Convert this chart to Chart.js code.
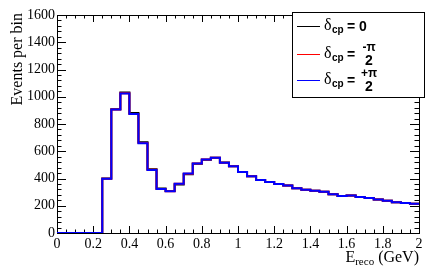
<!DOCTYPE html>
<html>
<head>
<meta charset="utf-8">
<script src="https://cdn.jsdelivr.net/npm/chart.js@4.4.1/dist/chart.umd.min.js"></script>
<style>
  body { margin: 0; background: #fff; }
  canvas { display: block; }
</style>
</head>
<body>
<canvas id="histChart" width="442" height="277"></canvas>
<script>
// Histogram: 40 bins of 0.05 GeV from 0 to 2 GeV
const binWidth = 0.05;
const nBins = 40;

// events per bin, delta_cp = 0
const countsZero = [
  0, 0, 0, 0, 0, 400, 909, 1031, 881, 666,
  468, 326, 308, 356, 432, 508, 537, 552, 517, 490,
  448, 416, 389, 374, 360, 348, 328, 318, 311, 303,
  284, 271, 276, 264, 257, 245, 237, 225, 220, 215
];
// delta_cp = -pi/2
const countsMinus = [
  0, 0, 0, 0, 0, 399, 907, 1025, 874, 660,
  464, 323, 306, 361, 435, 510, 539, 553, 516, 490,
  447, 416, 389, 374, 360, 348, 328, 318, 311, 303,
  284, 271, 276, 264, 257, 245, 237, 225, 220, 215
];
// delta_cp = +pi/2
const countsPlus = [
  0, 0, 0, 0, 0, 399, 907, 1024, 873, 659,
  463, 323, 306, 362, 436, 510, 539, 553, 516, 490,
  447, 416, 389, 374, 360, 348, 328, 318, 311, 303,
  284, 271, 276, 264, 257, 245, 237, 225, 220, 215
];

const xTicks = [0, 0.2, 0.4, 0.6, 0.8, 1, 1.2, 1.4, 1.6, 1.8, 2];
const yTicks = [0, 200, 400, 600, 800, 1000, 1200, 1400, 1600];

// turn bin contents into step points (left edge + closing right edge)
function toSteps(counts) {
  const pts = counts.map((c, i) => ({ x: i * binWidth, y: c }));
  pts.push({ x: nBins * binWidth, y: counts[counts.length - 1] });
  return pts;
}

// ROOT-like frame with inward ticks on all four sides
const framePlugin = {
  id: "framePlugin",
  beforeDatasetsDraw(chart) {
    const { ctx, chartArea: a, scales } = chart;
    const sx = scales.x, sy = scales.y;
    ctx.save();
    ctx.strokeStyle = "#000";
    ctx.lineWidth = 1;
    ctx.strokeRect(Math.round(a.left) + 0.5, Math.round(a.top) + 0.5,
      Math.round(a.right - a.left), Math.round(a.bottom - a.top));
    ctx.beginPath();
    for (let i = 0; i <= 40; i++) {
      const px = Math.round(sx.getPixelForValue(i * 0.05)) + 0.5;
      const len = i % 4 === 0 ? 7 : 3.5;
      ctx.moveTo(px, a.bottom); ctx.lineTo(px, a.bottom - len);
      ctx.moveTo(px, a.top); ctx.lineTo(px, a.top + len);
    }
    for (let i = 0; i <= 40; i++) {
      const py = Math.round(sy.getPixelForValue(i * 40)) + 0.5;
      const len = i % 5 === 0 ? 9 : 4.5;
      ctx.moveTo(a.left, py); ctx.lineTo(a.left + len, py);
      ctx.moveTo(a.right, py); ctx.lineTo(a.right - len, py);
    }
    ctx.stroke();
    ctx.restore();
  },
  afterDraw(chart) {
    const { ctx, chartArea: a } = chart;
    ctx.save();
    ctx.fillStyle = "#000";

    // y title
    ctx.save();
    ctx.translate(22, a.top - 2);
    ctx.rotate(-Math.PI / 2);
    ctx.font = "16px 'Liberation Serif'";
    ctx.textAlign = "right";
    ctx.textBaseline = "alphabetic";
    ctx.fillText("Events per bin", 0, 0);
    ctx.restore();

    // x title: E_reco (GeV), right aligned to axis end
    ctx.font = "16px 'Liberation Serif'";
    const tail = " (GeV)";
    const tailW = ctx.measureText(tail).width;
    ctx.font = "11px 'Liberation Serif'";
    const subW = ctx.measureText("reco").width;
    ctx.font = "16px 'Liberation Serif'";
    const eW = ctx.measureText("E").width;
    let tx = a.right - tailW - subW - eW;
    const ty = 262;
    ctx.textAlign = "left";
    ctx.fillText("E", tx, ty);
    ctx.font = "11px 'Liberation Serif'";
    ctx.fillText("reco", tx + eW, ty + 3);
    ctx.font = "16px 'Liberation Serif'";
    ctx.fillText(tail, tx + eW + subW, ty);

    // legend box
    const lx = 292, ly = 12, lw = 132, lh = 85;
    ctx.fillStyle = "#fff";
    ctx.fillRect(lx, ly, lw, lh);
    ctx.strokeStyle = "#000";
    ctx.lineWidth = 1;
    ctx.strokeRect(lx + 0.5, ly + 0.5, lw, lh);

    const rows = [
      { color: "#000000", y: 26, frac: null },
      { color: "#ff0000", y: 54, frac: "-\u03c0" },
      { color: "#0000ff", y: 80, frac: "+\u03c0" }
    ];
    rows.forEach(r => {
      ctx.strokeStyle = r.color;
      ctx.lineWidth = 1;
      ctx.beginPath();
      ctx.moveTo(297, r.y + 0.5);
      ctx.lineTo(320, r.y + 0.5);
      ctx.stroke();
      ctx.fillStyle = "#000";
      ctx.textAlign = "left";
      ctx.textBaseline = "alphabetic";
      ctx.font = "16px 'Liberation Serif'";
      ctx.fillText("\u03b4", 324, r.y + 4);
      ctx.font = "bold 10px 'Liberation Sans'";
      ctx.fillText("cp", 332, r.y + 7);
      ctx.font = "bold 14px 'Liberation Sans'";
      ctx.fillText("=", 347, r.y + 5);
      if (!r.frac) {
        ctx.fillText("0", 359, r.y + 5);
      } else {
        ctx.textAlign = "center";
        ctx.font = "bold 12px 'Liberation Sans'";
        ctx.fillText(r.frac, 369, r.y - 3);
        ctx.font = "bold 14px 'Liberation Sans'";
        ctx.fillText("2", 369, r.y + 11);
      }
    });
    ctx.restore();
  }
};

Chart.defaults.font.family = "'Liberation Serif'";
Chart.defaults.color = "#000";

new Chart(document.getElementById("histChart"), {
  type: "line",
  data: {
    datasets: [
      { label: "dcp = 0", data: toSteps(countsZero), borderColor: "#000000", order: 3 },
      { label: "dcp = -pi/2", data: toSteps(countsMinus), borderColor: "#ff0000", order: 2 },
      { label: "dcp = +pi/2", data: toSteps(countsPlus), borderColor: "#0000ff", order: 1 }
    ].map(d => Object.assign(d, { stepped: "before", borderWidth: 2, pointRadius: 0, fill: false }))
  },
  options: {
    responsive: false,
    animation: false,
    devicePixelRatio: 1,
    layout: { padding: { top: 15, right: 23, left: 0, bottom: 0 } },
    plugins: { legend: { display: false }, tooltip: { enabled: false } },
    scales: {
      x: {
        type: "linear",
        min: 0,
        max: 2,
        grid: { display: false, drawTicks: false },
        border: { display: false },
        afterBuildTicks: s => { s.ticks = xTicks.map(v => ({ value: v })); },
        afterFit: s => { s.height = 44; },
        ticks: {
          padding: 3,
          maxRotation: 0,
          autoSkip: false,
          font: { size: 14 },
          callback: v => String(+v.toFixed(2))
        }
      },
      y: {
        min: 0,
        max: 1600,
        grid: { display: false, drawTicks: false },
        border: { display: false },
        afterBuildTicks: s => { s.ticks = yTicks.map(v => ({ value: v })); },
        afterFit: s => { s.width = 57; },
        ticks: { padding: 2, font: { size: 14 }, callback: v => String(v) }
      }
    }
  },
  plugins: [framePlugin]
});
</script>
</body>
</html>
